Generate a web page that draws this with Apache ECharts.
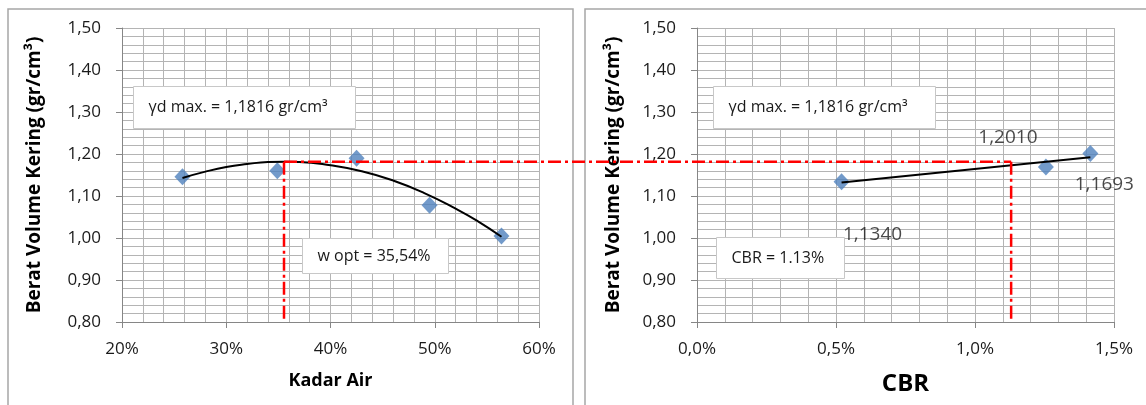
<!DOCTYPE html>
<html>
<head>
<meta charset="utf-8">
<script src="https://cdn.jsdelivr.net/npm/echarts@6/dist/echarts.min.js"></script>
<style>
  html, body { margin: 0; padding: 0; background: #fff; }
  #chart { width: 1146px; height: 405px; }
</style>
</head>
<body>
<div id="chart"></div>
<script>
// measured points, left chart (kadar air %, berat volume kering)
const kadarAir = [25.8, 34.9, 42.5, 49.5, 56.4]
const beratAir = [1.146, 1.160, 1.190, 1.078, 1.005]
// polynomial trendline
const trendAirX = [25.8, 28, 30, 32, 34, 35.54, 37, 40, 43, 46, 49, 52, 54, 56.4]
const trendAirY = [1.143, 1.158, 1.169, 1.176, 1.181, 1.1816, 1.181, 1.173, 1.159, 1.137, 1.107, 1.070, 1.042, 1.003]

// right chart (CBR %, berat volume kering)
const cbr = [0.52, 1.255, 1.415]
const beratCbr = [1.134, 1.1693, 1.2010]
const cbrLabels = ["1,1340", "1,2010", "1,1693"]
const trendCbrX = [0.52, 1.415]
const trendCbrY = [1.132, 1.192]

const ydMax = 1.1816
const wOpt = 35.54
const cbrOpt = 1.13

const yTitle = "Berat Volume Kering (gr/cm³)"
const boxTexts = ["γd max. = 1,1816 gr/cm³", "w opt = 35,54%", "γd max. = 1,1816 gr/cm³", "CBR = 1.13%"]

const FONT = "Open Sans"
const BLUE = "#4F81BD"
const GRID = "#b4b4b4"
const AXIS = "#868686"

let chart = echarts.init(document.getElementById("chart"))

function yAxisCfg(i){
    return {
        gridIndex: i,
        type: "value",
        min: 0.8,
        max: 1.5,
        interval: 0.1,
        name: yTitle,
        nameLocation: "middle",
        nameRotate: 90,
        nameGap: i === 0 ? 78 : 74,
        nameTextStyle: { fontFamily: FONT, fontWeight: "bold", fontSize: 19, color: "#000" },
        axisLine: { show: true, lineStyle: { color: AXIS, width: 1 } },
        axisTick: { show: true, inside: false, length: 6, lineStyle: { color: AXIS } },
        axisLabel: {
            fontFamily: FONT, fontSize: 17, color: "#1a1a1a", margin: 21,
            formatter: v => v.toFixed(2).replace(".", ",")
        },
        splitLine: { show: true, lineStyle: { color: GRID, width: 1 } },
        minorTick: { show: false, splitNumber: 5 },
        minorSplitLine: { show: true, lineStyle: { color: GRID, width: 1 } }
    }
}

let option = {
    animation: false,
    grid: [
        { left: 122, top: 28, width: 417, height: 294 },
        { left: 697, top: 28, width: 417, height: 294 }
    ],
    xAxis: [
        {
            gridIndex: 0,
            type: "value",
            min: 20,
            max: 60,
            interval: 10,
            name: "Kadar Air",
            nameLocation: "middle",
            nameGap: 50,
            nameTextStyle: { fontFamily: FONT, fontWeight: "bold", fontSize: 18, color: "#000" },
            axisLine: { show: true, lineStyle: { color: AXIS } },
            axisTick: { show: true, length: 6, lineStyle: { color: AXIS } },
            axisLabel: { fontFamily: FONT, fontSize: 17, color: "#1a1a1a", margin: 19, formatter: "{value}%" },
            splitLine: { show: true, lineStyle: { color: GRID } },
            minorSplitLine: { show: true, lineStyle: { color: GRID } },
            minorTick: { show: false, splitNumber: 5 }
        },
        {
            gridIndex: 1,
            type: "value",
            min: 0,
            max: 1.5,
            interval: 0.5,
            name: "CBR",
            nameLocation: "middle",
            nameGap: 50,
            nameTextStyle: { fontFamily: FONT, fontWeight: "bold", fontSize: 24, color: "#000" },
            axisLine: { show: true, lineStyle: { color: AXIS } },
            axisTick: { show: true, length: 6, lineStyle: { color: AXIS } },
            axisLabel: {
                fontFamily: FONT, fontSize: 17, color: "#1a1a1a", margin: 19,
                formatter: v => v.toFixed(1).replace(".", ",") + "%"
            },
            splitLine: { show: true, lineStyle: { color: GRID } },
            minorSplitLine: { show: true, lineStyle: { color: GRID } },
            minorTick: { show: false, splitNumber: 5 }
        }
    ],
    yAxis: [yAxisCfg(0), yAxisCfg(1)],
    series: [
        {
            type: "line",
            xAxisIndex: 0, yAxisIndex: 0,
            data: trendAirX.map((x, i) => [x, trendAirY[i]]),
            smooth: true,
            showSymbol: false,
            lineStyle: { color: "#000", width: 2 },
            z: 4
        },
        {
            type: "scatter",
            xAxisIndex: 0, yAxisIndex: 0,
            data: kadarAir.map((x, i) => [x, beratAir[i]]),
            symbol: "diamond",
            symbolSize: [16, 17],
            itemStyle: { color: BLUE },
            z: 3
        },
        {
            type: "line",
            xAxisIndex: 1, yAxisIndex: 1,
            data: trendCbrX.map((x, i) => [x, trendCbrY[i]]),
            showSymbol: false,
            lineStyle: { color: "#000", width: 2 },
            z: 4
        },
        {
            type: "scatter",
            xAxisIndex: 1, yAxisIndex: 1,
            data: cbr.map((x, i) => [x, beratCbr[i]]),
            symbol: "diamond",
            symbolSize: [16, 17],
            itemStyle: { color: BLUE },
            label: {
                show: true,
                fontFamily: FONT,
                fontSize: 19,
                color: "#1a1a1a",
                formatter: p => cbrLabels[p.dataIndex]
            },
            labelLayout: p => {
                let off = [[31, 53], [-38, -29], [14, 31]][p.dataIndex]
                return { dx: off[0], dy: off[1] }
            },
            z: 3
        }
    ]
}
chart.setOption(option)

// red dash-dot guide lines, from data through the axes
let pOptL = chart.convertToPixel({ xAxisIndex: 0, yAxisIndex: 0 }, [wOpt, ydMax])
let pBaseL = chart.convertToPixel({ xAxisIndex: 0, yAxisIndex: 0 }, [wOpt, 0.8])
let pOptR = chart.convertToPixel({ xAxisIndex: 1, yAxisIndex: 1 }, [cbrOpt, ydMax])
let pBaseR = chart.convertToPixel({ xAxisIndex: 1, yAxisIndex: 1 }, [cbrOpt, 0.8])

let redStyle = { stroke: "#ff0000", lineWidth: 2.5, lineDash: [13, 4, 3, 4] }

function box(x, y, w, h, text, fs){
    return {
        type: "group",
        left: x, top: y, z: 10,
        children: [
            { type: "rect", shape: { x: 0, y: 0, width: w, height: h }, style: { fill: "#fff", stroke: "#c8c8c8", lineWidth: 1 } },
            { type: "text", x: 15, y: h / 2, style: { text: text, fontFamily: FONT, fontSize: fs, fill: "#1a1a1a", verticalAlign: "middle" } }
        ]
    }
}

chart.setOption({
    graphic: [
        // chart frames
        { type: "rect", shape: { x: 8, y: 9, width: 565, height: 420 }, style: { fill: "none", stroke: "#a6a6a6", lineWidth: 1.5 }, z: 0, silent: true },
        { type: "rect", shape: { x: 585, y: 9, width: 580, height: 420 }, style: { fill: "none", stroke: "#a6a6a6", lineWidth: 1.5 }, z: 0, silent: true },
        { type: "line", shape: { x1: pOptL[0], y1: pOptL[1], x2: pOptR[0], y2: pOptR[1] }, style: redStyle, z: 5 },
        { type: "line", shape: { x1: pOptL[0], y1: pOptL[1], x2: pBaseL[0], y2: pBaseL[1] }, style: redStyle, z: 5 },
        { type: "line", shape: { x1: pOptR[0], y1: pOptR[1], x2: pBaseR[0], y2: pBaseR[1] }, style: redStyle, z: 5 },
        box(133, 86, 222, 42, boxTexts[0], 16),
        box(302, 238, 146, 35, boxTexts[1], 16),
        box(713, 86, 222, 42, boxTexts[2], 16),
        box(716, 237, 128, 41, boxTexts[3], 16)
    ]
})
</script>
</body>
</html>
